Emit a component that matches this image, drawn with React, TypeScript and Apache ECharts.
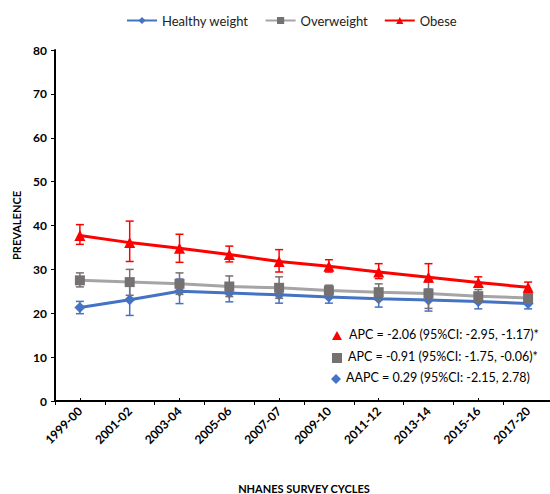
import React, { useEffect, useRef } from "react";
import * as echarts from "echarts";

const categories = ["1999-00", "2001-02", "2003-04", "2005-06", "2007-07", "2009-10", "2011-12", "2013-14", "2015-16", "2017-20"];

const healthy = [21.3, 23.1, 25.0, 24.6, 24.2, 23.7, 23.3, 23.0, 22.7, 22.2];
const healthyLow = [19.9, 19.5, 22.2, 22.6, 22.3, 22.3, 21.4, 20.5, 21.0, 21.0];
const healthyHigh = [22.7, 26.4, 27.8, 26.6, 26.1, 25.1, 25.2, 25.5, 24.4, 23.4];

const overweight = [27.5, 27.1, 26.7, 26.1, 25.8, 25.2, 24.8, 24.5, 23.9, 23.5];
const overweightLow = [26.0, 24.1, 24.3, 23.8, 23.4, 24.0, 23.0, 21.1, 22.4, 22.3];
const overweightHigh = [29.2, 30.0, 29.2, 28.5, 28.3, 26.4, 26.7, 27.1, 25.4, 24.7];

const obese = [37.7, 36.1, 34.8, 33.4, 31.8, 30.7, 29.4, 28.2, 27.0, 25.9];
const obeseLow = [35.7, 31.8, 31.6, 31.7, 29.4, 29.4, 27.9, 27.5, 26.1, 24.8];
const obeseHigh = [40.2, 41.0, 38.0, 35.3, 34.5, 32.2, 31.3, 31.3, 28.3, 27.1];

const annotations = [
  "APC = -2.06 (95%CI: -2.95, -1.17)*",
  "APC = -0.91 (95%CI: -1.75, -0.06)*",
  "AAPC = 0.29 (95%CI: -2.15, 2.78)",
];

const FONT = "Lato, 'Liberation Sans', sans-serif";

function errorSeries(low: number[], high: number[], color: string, z: number) {
  return {
    type: "custom",
    xAxisIndex: 0,
    yAxisIndex: 0,
    z,
    silent: true,
    data: low.map((l, i) => [i, l, high[i]]),
    renderItem: (params: any, api: any) => {
      const x = api.value(0);
      const p1 = api.coord([x, api.value(1)]);
      const p2 = api.coord([x, api.value(2)]);
      const hw = 4;
      const style = { stroke: color, lineWidth: 1.5, fill: "none" };
      return {
        type: "group",
        children: [
          { type: "line", shape: { x1: p1[0], y1: p1[1], x2: p2[0], y2: p2[1] }, style },
          { type: "line", shape: { x1: p1[0] - hw, y1: p1[1], x2: p1[0] + hw, y2: p1[1] }, style },
          { type: "line", shape: { x1: p2[0] - hw, y1: p2[1], x2: p2[0] + hw, y2: p2[1] }, style },
        ],
      };
    },
  };
}

export default function App() {
  const ref = useRef<HTMLDivElement>(null);
  useEffect(() => {
    if (!ref.current) return;
    const chart = echarts.init(ref.current, undefined, { renderer: "svg" });
    const textStyle = { fontFamily: FONT, fontSize: 12.5, color: "#000" };
    chart.setOption({
      animation: false,
      textStyle: { fontFamily: FONT },
      legend: {
        top: 9,
        left: 121,
        itemWidth: 30,
        itemHeight: 9,
        itemGap: 16,
        textStyle: { fontFamily: FONT, fontSize: 13, color: "#222" },
        data: ["Healthy weight", "Overweight", "Obese"],
      },
      grid: { left: 55, right: -3, top: 50, bottom: 93, containLabel: false, outerBoundsMode: "none" },
      xAxis: [
        {
          type: "category",
          data: categories,
          boundaryGap: true,
          position: "bottom",
          name: "NHANES SURVEY CYCLES",
          nameLocation: "middle",
          nameGap: 82,
          nameTextStyle: { fontFamily: FONT, fontSize: 11, fontWeight: "bold", color: "#000" },
          axisLine: { lineStyle: { color: "#000", width: 2 } },
          axisTick: { show: true, length: 4, lineStyle: { color: "#000", width: 1 } },
          axisLabel: { rotate: 45, fontFamily: FONT, fontSize: 12, fontWeight: "bold", color: "#000", margin: 8, interval: 0 },
          splitLine: { show: false },
        },
        {
          type: "category",
          data: categories,
          boundaryGap: true,
          position: "bottom",
          axisLine: { show: false },
          axisTick: { show: true, alignWithLabel: true, inside: true, length: 3, lineStyle: { color: "#000", width: 1 } },
          axisLabel: { show: false },
          splitLine: { show: false },
        },
      ],
      yAxis: {
        type: "value",
        min: 0,
        max: 80,
        interval: 10,
        name: "PREVALENCE",
        nameLocation: "middle",
        nameGap: 33,
        nameTextStyle: { fontFamily: FONT, fontSize: 11, fontWeight: "bold", color: "#000" },
        axisLine: { show: true, lineStyle: { color: "#000", width: 2 } },
        axisTick: { show: true, length: 4, lineStyle: { color: "#000", width: 1 } },
        axisLabel: { fontFamily: FONT, fontSize: 12, fontWeight: "bold", color: "#000", margin: 8 },
        splitLine: { show: false },
      },
      series: [
        errorSeries(healthyLow, healthyHigh, "#4472C4", 2),
        {
          name: "Healthy weight",
          type: "line",
          data: healthy,
          z: 3,
          symbol: "diamond",
          symbolSize: 11,
          itemStyle: { color: "#4472C4" },
          lineStyle: { color: "#4472C4", width: 3 },
        },
        errorSeries(overweightLow, overweightHigh, "#767171", 4),
        {
          name: "Overweight",
          type: "line",
          data: overweight,
          z: 5,
          symbol: "rect",
          symbolSize: 10,
          itemStyle: { color: "#767171" },
          lineStyle: { color: "#A5A5A5", width: 3 },
        },
        errorSeries(obeseLow, obeseHigh, "#FF0000", 6),
        {
          name: "Obese",
          type: "line",
          data: obese,
          z: 7,
          symbol: "triangle",
          symbolSize: 11,
          itemStyle: { color: "#FF0000" },
          lineStyle: { color: "#FF0000", width: 3 },
        },
      ],
      graphic: [
        { type: "polygon", shape: { points: [[337, 331], [342, 340], [332, 340]] }, style: { fill: "#FF0000" } },
        { type: "text", left: 349, top: 328, style: { text: annotations[0], ...textStyle } },
        { type: "rect", shape: { x: 332, y: 353, width: 10, height: 10 }, style: { fill: "#767171" } },
        { type: "text", left: 348, top: 350, style: { text: annotations[1], ...textStyle } },
        { type: "polygon", shape: { points: [[336, 374], [341, 379], [336, 384], [331, 379]] }, style: { fill: "#4472C4" } },
        { type: "text", left: 346, top: 371, style: { text: annotations[2], ...textStyle } },
      ],
    });
    return () => chart.dispose();
  }, []);
  return <div ref={ref} style={{ position: "absolute", left: 0, top: 0, width: 550, height: 494 }} />;
}
